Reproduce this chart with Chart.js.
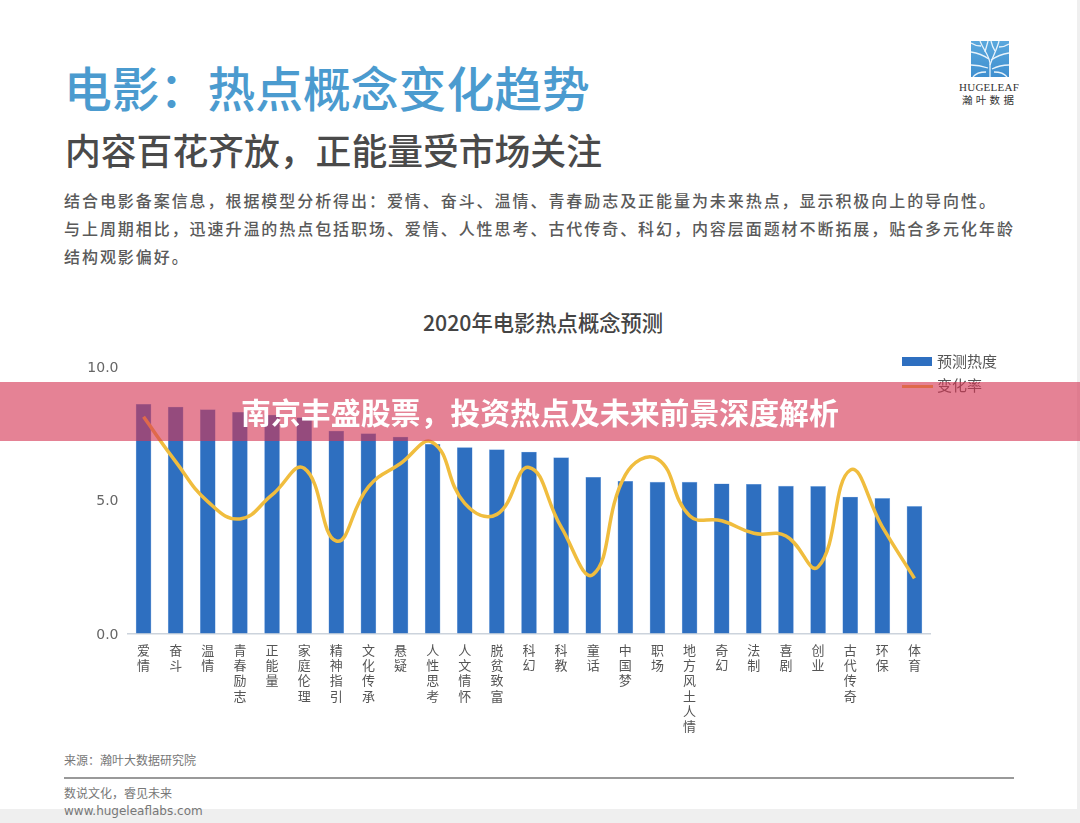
<!DOCTYPE html>
<html lang="zh">
<head>
<meta charset="utf-8">
<title>2020年电影热点概念预测</title>
<script src="https://cdn.jsdelivr.net/npm/chart.js@4"></script>
<style>
    html, body { margin: 0; padding: 0; background: #fff; }
    body { position: relative; width: 1080px; height: 823px; overflow: hidden; font-family: "Noto Sans CJK SC", sans-serif; }
    .txt { position: absolute; white-space: nowrap; line-height: 1; }
    #title { left: 64px; top: 63px; font-size: 47.8px; font-weight: 500; color: #4b9bcf; }
    #subtitle { left: 65px; top: 132px; font-size: 35.8px; font-weight: 500; color: #4a4a4a; }
    .body-line { left: 64px; font-size: 16px; letter-spacing: 1.94px; color: #5a5a5a; font-weight: 500; }
    #chartTitle { left: 343px; width: 400px; text-align: center; top: 311px; font-size: 21.3px; font-weight: 500; color: #444; }
    #chartBox { position: absolute; left: 80px; top: 350px; width: 870px; height: 400px; }
    #legend .swatch { position: absolute; left: 902px; }
    #legend .label { left: 937px; font-size: 15px; color: #555; }
    #banner { position: absolute; left: 0; top: 382px; width: 1080px; height: 59px; background: rgba(213, 53, 84, 0.62); }
    #bannerText { left: 0; width: 1080px; text-align: center; top: 397px; font-size: 29.9px; font-weight: 700; color: #fff; }
    #footBar { position: absolute; left: 0; top: 809px; width: 1080px; height: 14px; background: #efefef; }
    #sideBar { position: absolute; left: 1077px; top: 0; width: 3px; height: 823px; background: #efefef; }
    #rule { position: absolute; left: 64px; top: 777px; width: 950px; height: 2px; background: #999; }
    .foot { left: 64px; font-size: 12px; color: #777; }
    #logoName { left: 959px; top: 82px; font-family: "Liberation Serif", serif; font-size: 11px; letter-spacing: 0.25px; color: #333; }
    #logoCn { left: 962px; top: 95px; font-size: 10.5px; letter-spacing: 3.3px; color: #333; }
</style>
</head>
<body>
<div id="sideBar"></div>
<div id="footBar"></div>

<div class="txt" id="title">电影：热点概念变化趋势</div>
<div class="txt" id="subtitle">内容百花齐放，正能量受市场关注</div>
<div class="txt body-line" style="top:192px">结合电影备案信息，根据模型分析得出：爱情、奋斗、温情、青春励志及正能量为未来热点，显示积极向上的导向性。</div>
<div class="txt body-line" style="top:220px">与上周期相比，迅速升温的热点包括职场、爱情、人性思考、古代传奇、科幻，内容层面题材不断拓展，贴合多元化年龄</div>
<div class="txt body-line" style="top:248px">结构观影偏好。</div>

<svg style="position:absolute;left:971px;top:41px" width="38" height="36" viewBox="0 0 38 36">
    <defs>
        <linearGradient id="logoFill" x1="0" y1="0" x2="0" y2="1">
            <stop offset="0" stop-color="#5aa8dd"/>
            <stop offset="1" stop-color="#3f8fcf"/>
        </linearGradient>
    </defs>
    <rect width="38" height="36" fill="url(#logoFill)"/>
    <g fill="none" stroke="#e8f3fb" stroke-width="1.3">
        <path d="M19 36 L19 22 C18 14 12 8 9 0"/>
        <path d="M19 24 C22 15 26 8 28 0"/>
        <path d="M18 18 C12 14 6 12 0 11"/>
        <path d="M20 19 C26 15 32 13 38 12"/>
        <path d="M17 27 C11 25 5 24 0 24"/>
        <path d="M21 28 C27 25 33 24 38 24"/>
        <path d="M14 11 C15 7 16 4 17 0"/>
        <path d="M24 10 C22 7 21 4 20 0"/>
        <path d="M10 5 C6 5 3 4 0 2"/>
        <path d="M28 6 C32 6 35 5 38 3"/>
        <path d="M15 31 C10 31 5 32 2 36"/>
        <path d="M23 31 C28 31 33 32 36 36"/>
    </g>
</svg>
<div class="txt" id="logoName">HUGELEAF</div>
<div class="txt" id="logoCn">瀚叶数据</div>

<div class="txt" id="chartTitle">2020年电影热点概念预测</div>
<div id="chartBox"><canvas id="filmChart"></canvas></div>
<div id="legend"></div>

<div class="txt foot" style="top:754px">来源：瀚叶大数据研究院</div>
<div id="rule"></div>
<div class="txt foot" style="top:787px">数说文化，睿见未来</div>
<div class="txt foot" style="top:805px;font-family:'DejaVu Sans';">www.hugeleaflabs.com</div>

<div id="banner"></div>
<div class="txt" id="bannerText">南京丰盛股票，投资热点及未来前景深度解析</div>

<script>
// ── 数据 ────────────────────────────────────────────────────────
const categories = ['爱情', '奋斗', '温情', '青春励志', '正能量', '家庭伦理', '精神指引', '文化传承', '悬疑',
    '人性思考', '人文情怀', '脱贫致富', '科幻', '科教', '童话', '中国梦', '职场', '地方风土人情', '奇幻',
    '法制', '喜剧', '创业', '古代传奇', '环保', '体育'];
const heatValues = [8.6, 8.5, 8.4, 8.3, 8.2, 8.1, 7.6, 7.5, 7.37, 7.1, 6.98, 6.9, 6.81, 6.6, 5.86, 5.71, 5.68,
    5.68, 5.62, 5.6, 5.53, 5.52, 5.12, 5.07, 4.77];
const changeValues = [8.13, 6.45, 4.95, 4.3, 5.2, 6.2, 3.47, 5.5, 6.38, 7.17, 4.88, 4.47, 6.23, 4.0, 2.22, 5.95,
    6.55, 4.42, 4.23, 3.76, 3.66, 2.5, 6.13, 4.0, 2.07];
const yTicks = [0, 5, 10];
const heatLabel = '预测热度';
const changeLabel = '变化率';

const BAR_COLOR = '#2e6fc0';
const LINE_COLOR = '#f0bd3e';

// ── 图表 ────────────────────────────────────────────────────────
new Chart(document.getElementById('filmChart').getContext('2d'), {
    data: {
        // 竖排标签：每个字一行
        labels: categories.map(c => c.split('')),
        datasets: [
            {
                type: 'line',
                label: changeLabel,
                data: changeValues,
                borderColor: LINE_COLOR,
                borderWidth: 3.5,
                pointRadius: 0,
                tension: 0.45,
                order: 0
            },
            {
                type: 'bar',
                label: heatLabel,
                data: heatValues,
                backgroundColor: BAR_COLOR,
                borderColor: '#8db4e4',
                borderWidth: { left: 0.6, right: 0.6, top: 0.6, bottom: 0 },
                barThickness: 15,
                order: 1
            }
        ]
    },
    options: {
        responsive: true,
        maintainAspectRatio: false,
        animation: false,
        layout: { padding: { top: 17, right: 19.5, left: 0, bottom: 0 } },
        plugins: { legend: { display: false }, title: { display: false }, tooltip: { enabled: false } },
        scales: {
            x: {
                afterFit: axis => { axis.height = 116.5; },
                grid: { display: false },
                border: { color: '#ccd3dc', width: 1.5 },
                ticks: {
                    autoSkip: false,
                    maxRotation: 0,
                    padding: 1,
                    color: '#555',
                    font: { family: '"Noto Sans CJK SC"', size: 13, lineHeight: 1.17 }
                }
            },
            y: {
                min: 0,
                max: 10,
                afterFit: axis => { axis.width = 47.5; },
                afterBuildTicks: axis => { axis.ticks = yTicks.map(v => ({ value: v })); },
                grid: { display: false },
                border: { display: false },
                ticks: {
                    padding: 1,
                    labelOffset: 1.5,
                    color: '#666',
                    font: { family: '"DejaVu Sans"', size: 14 },
                    callback: v => v.toFixed(1)
                }
            }
        }
    }
});

// ── 图例 ────────────────────────────────────────────────────────
document.getElementById('legend').innerHTML =
    `<div class="swatch" style="top:357px;width:30px;height:9px;background:${BAR_COLOR}"></div>` +
    `<div class="txt label" style="top:353px">${heatLabel}</div>` +
    `<div class="swatch" style="top:385px;width:31px;height:3px;background:${LINE_COLOR}"></div>` +
    `<div class="txt label" style="top:377px">${changeLabel}</div>`;
</script>
</body>
</html>
